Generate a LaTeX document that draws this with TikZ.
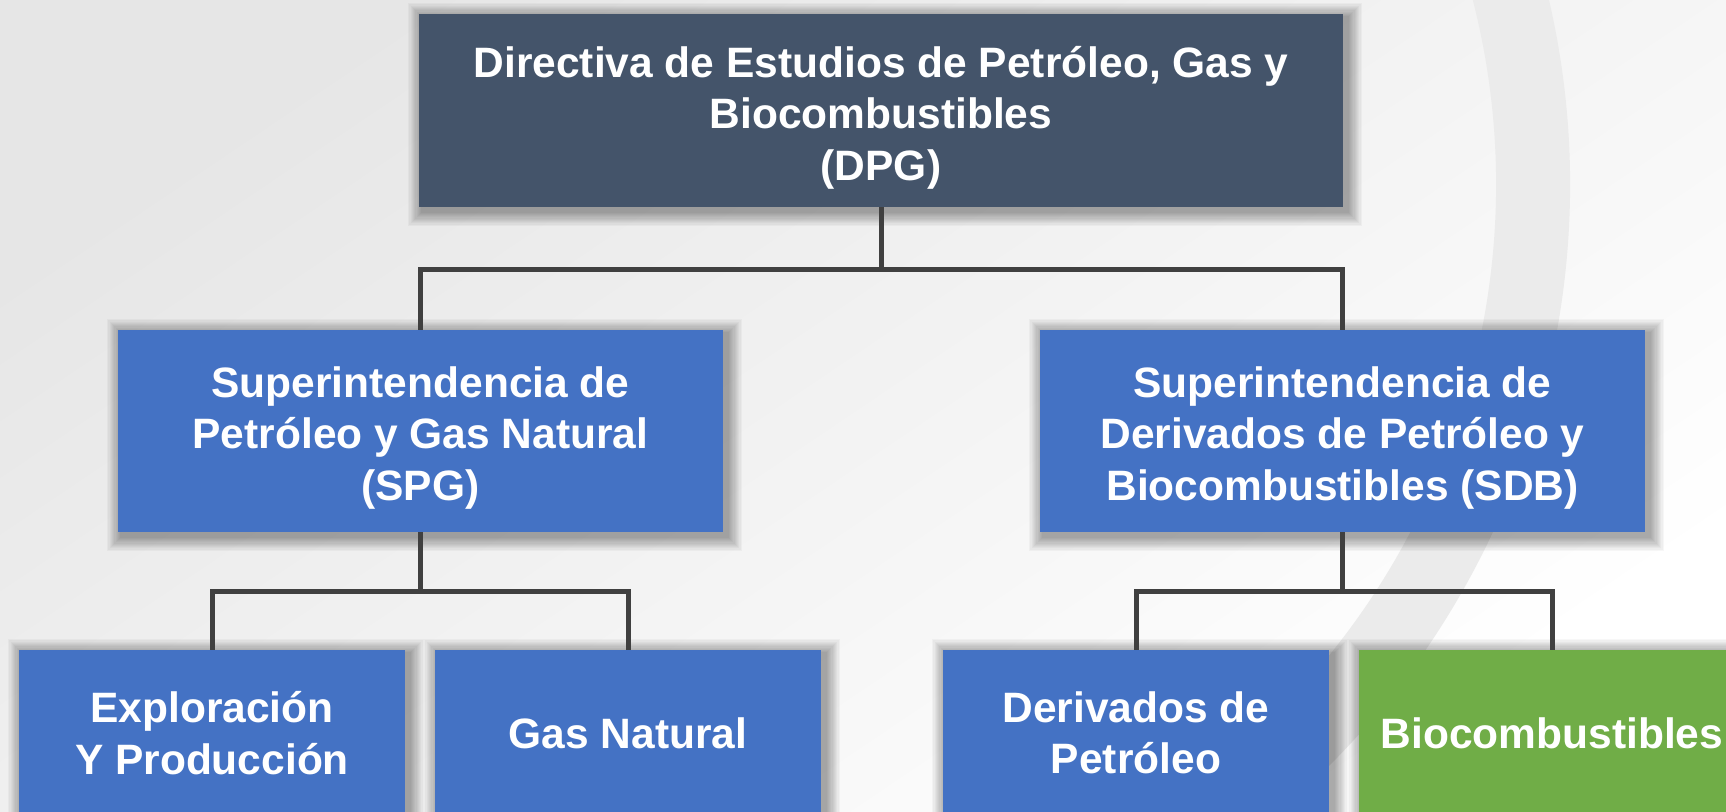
\documentclass[tikz,border=0pt]{standalone}
\usepackage{fontspec}
\newfontfamily\arialfont{Liberation Sans}
\usetikzlibrary{backgrounds}

\definecolor{dirslate}{HTML}{44546A}
\definecolor{supblue}{HTML}{4472C4}
\definecolor{biogreen}{HTML}{70AD47}
\definecolor{linkgray}{HTML}{404040}
\definecolor{ringgray}{HTML}{EBEBEB}
\definecolor{bgtop}{HTML}{E6E6E6}

\begin{document}
\begin{tikzpicture}[x=0.5pt,y=-0.5pt,
	box/.style={rectangle, inner sep=0pt, text=white, align=center,
		font=\arialfont\bfseries\fontsize{21.25}{25.75}\selectfont},
	topbox/.style={box, fill=dirslate, minimum width=462pt, minimum height=96.5pt, text height=83pt, text depth=13.5pt},
	midbox/.style={box, fill=supblue, minimum width=302.5pt, minimum height=101pt, text height=85pt, text depth=16pt},
	leafbox/.style={box, fill=supblue, minimum width=193pt, minimum height=83pt},
	link/.style={draw=linkgray, line width=2.5pt},
	softshadow/.style={fill=black, opacity=0.03}]
	\useasboundingbox (0,0) rectangle (1726,811);
	\clip (0,0) rectangle (1726,811);
	
	\node[topbox] (dpg) at (881,110.5) {Directiva de Estudios de Petróleo, Gas y\\Biocombustibles\\(DPG)};
	
	\node[midbox] (spg) at (420.5,431) {Superintendencia de\\Petróleo y Gas Natural\\(SPG)};
	\node[midbox] (sdb) at (1342.5,431) {Superintendencia de\\Derivados de Petróleo y\\Biocombustibles (SDB)};
	
	\node[leafbox] (expl) at (212,733) {Exploración\\Y Producción};
	\node[leafbox] (gasn) at (628,733) {Gas Natural};
	\node[leafbox] (deri) at (1136,733) {Derivados de\\Petróleo};
	\node[leafbox, fill=biogreen] (bioc) at (1552,733) {Biocombustibles};
	
	\draw[link] (dpg.south) -- +(0,62) -| (spg.north);
	\draw[link] (dpg.south) -- +(0,62) -| (sdb.north);
	
	\draw[link] (spg.south) -- +(0,59) -| (expl.north);
	\draw[link] (spg.south) -- +(0,59) -| (gasn.north);
	\draw[link] (sdb.south) -- +(0,59) -| (deri.north);
	\draw[link] (sdb.south) -- +(0,59) -| (bioc.north);
	
	% background, ring and soft shadows
	\begin{pgfonlayer}{background}
		\fill[white] (0,0) rectangle (1726,811);
		\shade[top color=bgtop, middle color=white, bottom color=white, shading angle=34] (0,0) rectangle (1726,811);
		\draw[ringgray, line width=37pt] ([shift={(-25:783)}]750,185) arc (-25:60:783);
		\foreach \n in {dpg,spg,sdb,expl,gasn,deri,bioc}
			\foreach \k in {1,...,12}
				\fill[softshadow] ([shift={(2pt-0.6*\k pt,-2pt+0.6*\k pt)}]\n.north west) rectangle ([shift={(2pt+0.6*\k pt,-2pt-0.6*\k pt)}]\n.south east);
	\end{pgfonlayer}
\end{tikzpicture}
\end{document}
